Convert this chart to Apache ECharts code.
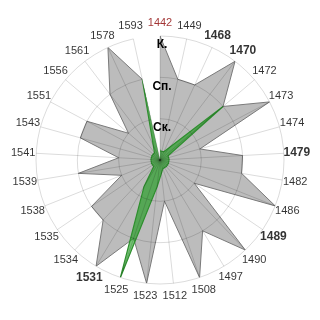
<!DOCTYPE html>
<html>
<head>
<meta charset="utf-8">
<script src="https://cdn.jsdelivr.net/npm/echarts@6/dist/echarts.min.js"></script>
<style>
html,body{margin:0;padding:0;background:#fff;}
#c{width:320px;height:320px;}
</style>
</head>
<body>
<div id="c"></div>
<script>
// Categories (clockwise from top)
var categories = ['1442','1449','1468','1470','1472','1473','1474','1479','1482','1486','1489','1490','1497','1508','1512','1523','1525','1531','1534','1535','1538','1539','1541','1543','1551','1556','1561','1578','1593'];
// Level labels for radius ticks 0..3
var levelNames = ['', 'Ск.', 'Сп.', 'К.'];
// Grey series values (levels)
var greyValues = [3,2,2,3,2,3,1,2,2,3,1,3,2,3,1,3,2,3,2,2,1,2,1,2,2,1,2,3,2];
// Green series values
var greenValues = [0.22,0.22,0.22,0.22,2,0.22,0.22,0.22,0.22,0.22,0.22,0.22,0.22,0.22,0.22,0.65,3,0.75,0.22,0.22,0.22,0.22,0.22,0.22,0.22,0.22,0.22,0.22,2];
// Label emphasis
var boldLabels = ['1468','1470','1479','1489','1531'];
var redLabels = ['1442'];

var FONT = 'Liberation Sans, Arial, sans-serif';
var GRID = 'rgba(0,0,0,0.14)';
var LABEL_R = 3.315;

function closed(vals) {
  var d = vals.map(function (v, i) { return [v, categories[i]]; });
  d.push([vals[0], categories[0]]);
  return d;
}

var chart = echarts.init(document.getElementById('c'), null, {renderer: 'canvas'});
chart.setOption({
  backgroundColor: '#ffffff',
  animation: false,
  polar: { center: [160, 160], radius: 124 },
  angleAxis: {
    type: 'category',
    data: categories,
    startAngle: 90,
    clockwise: true,
    boundaryGap: false,
    z: 5,
    axisLine: { show: false },
    axisTick: { show: false },
    axisLabel: { show: false },
    splitLine: { show: true, lineStyle: { color: GRID, width: 1 } }
  },
  radiusAxis: {
    type: 'value',
    min: 0, max: 3, interval: 1,
    z: 5,
    axisLine: { show: false },
    axisTick: { show: false },
    splitLine: { show: true, lineStyle: { color: GRID, width: 1 } },
    axisLabel: {
      show: true,
      margin: 0,
      align: 'center',
      verticalAlign: 'top',
      padding: [3, 0, 0, 4],
      fontFamily: FONT,
      fontSize: 12,
      fontWeight: 'bold',
      color: '#000',
      formatter: function (v) { return levelNames[Math.round(v)] || ''; }
    }
  },
  series: [
    {
      type: 'line',
      coordinateSystem: 'polar',
      data: closed(greyValues),
      showSymbol: false,
      symbol: 'none',
      smooth: false,
      lineStyle: { color: '#7a7a7a', width: 1 },
      areaStyle: { color: '#bcbcbc', opacity: 1 },
      z: 2
    },
    {
      type: 'line',
      coordinateSystem: 'polar',
      data: closed(greenValues),
      showSymbol: false,
      symbol: 'none',
      smooth: false,
      lineStyle: { color: '#2f8f2f', width: 1.2 },
      areaStyle: { color: 'rgba(0,150,0,0.55)', opacity: 1 },
      z: 3
    },
    {
      type: 'scatter',
      coordinateSystem: 'polar',
      clip: false,
      silent: true,
      symbolSize: 0,
      itemStyle: { color: 'rgba(0,0,0,0)' },
      data: categories.map(function (c) { return [LABEL_R, c]; }),
      label: {
        show: true,
        position: 'inside',
        fontFamily: FONT,
        formatter: function (p) {
          var c = categories[p.dataIndex];
          if (redLabels.indexOf(c) >= 0) return '{r|' + c + '}';
          if (boldLabels.indexOf(c) >= 0) return '{b|' + c + '}';
          return '{n|' + c + '}';
        },
        rich: {
          n: { fontFamily: FONT, fontSize: 11, color: '#000' },
          b: { fontFamily: FONT, fontSize: 12, fontWeight: 'bold', color: '#000' },
          r: { fontFamily: FONT, fontSize: 11, color: '#8b0000' }
        }
      },
      z: 4
    }
  ]
});
</script>
</body>
</html>
